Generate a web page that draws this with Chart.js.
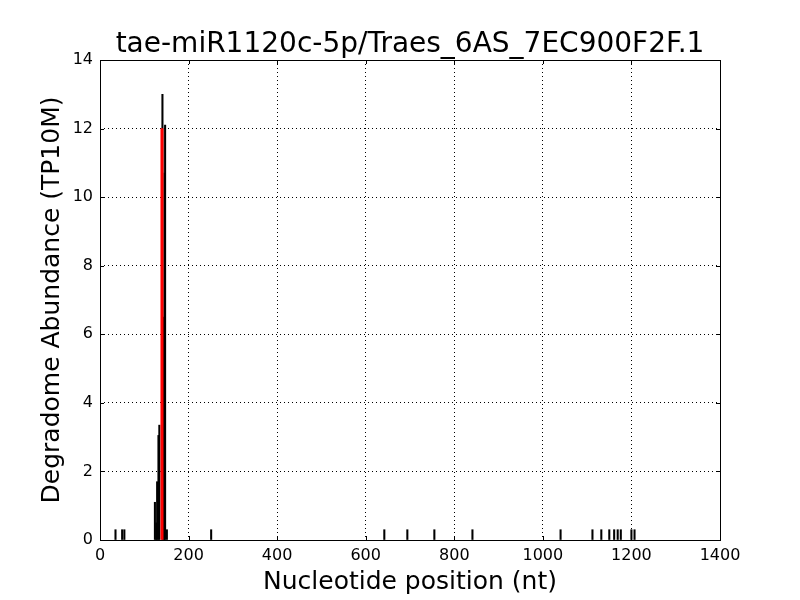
<!DOCTYPE html>
<html>
<head>
<meta charset="utf-8">
<title>tae-miR1120c-5p/Traes_6AS_7EC900F2F.1</title>
<script src="https://cdn.jsdelivr.net/npm/chart.js@4/dist/chart.umd.min.js"></script>
<style>
  html, body { margin: 0; padding: 0; background: #fff; }
  #plot { display: block; }
</style>
</head>
<body>
<canvas id="plot" width="800" height="600"></canvas>
<script>
'use strict';

// degradome reads (nucleotide position, TP10M)
const readPositions = [35, 50, 55, 124, 127, 129, 132, 134, 141, 144, 146, 147, 151,
  251, 642, 694, 755, 841, 1040, 1112, 1132, 1150, 1161, 1169, 1176, 1200, 1207];
const readAbundance = [0.3, 0.3, 0.3, 1.1, 0.5, 1.7, 3.05, 3.35, 13.0, 6.5, 10.7, 12.1, 0.3,
  0.3, 0.3, 0.3, 0.3, 0.3, 0.3, 0.3, 0.3, 0.3, 0.3, 0.3, 0.3, 0.3, 0.3];

// predicted cleavage site
const sitePositions = [140];
const siteAbundance = [12.0];

const xTickValues = [0, 200, 400, 600, 800, 1000, 1200, 1400];
const yTickValues = [0, 2, 4, 6, 8, 10, 12, 14];

const FONT = 'DejaVu Sans';

function toPoints(xs, ys) { return xs.map((x, i) => ({ x: x, y: ys[i] })); }

// solid frame + inward ticks on all four sides, like the old matplotlib look
const framePlugin = {
  id: 'frame',
  afterDraw(chart) {
    const { ctx, chartArea: a, scales } = chart;
    ctx.save();
    ctx.strokeStyle = '#000';
    ctx.lineWidth = 1;
    ctx.beginPath();
    xTickValues.forEach(v => {
      const px = Math.round(scales.x.getPixelForValue(v)) + 0.5;
      ctx.moveTo(px, a.bottom); ctx.lineTo(px, a.bottom - 4);
      ctx.moveTo(px, a.top); ctx.lineTo(px, a.top + 4);
    });
    yTickValues.forEach(v => {
      const py = Math.round(scales.y.getPixelForValue(v)) + 0.5;
      ctx.moveTo(a.left, py); ctx.lineTo(a.left + 4, py);
      ctx.moveTo(a.right, py); ctx.lineTo(a.right - 4, py);
    });
    ctx.stroke();
    ctx.strokeRect(Math.round(a.left) + 0.5, Math.round(a.top) + 0.5,
      Math.round(a.right - a.left), Math.round(a.bottom - a.top));
    ctx.restore();
  }
};

new Chart(document.getElementById('plot'), {
  type: 'bar',
  data: {
    datasets: [
      {
        label: 'cleavage site',
        data: toPoints(sitePositions, siteAbundance),
        backgroundColor: '#ff0000',
        barThickness: 2.4,
        grouped: false
      },
      {
        label: 'degradome',
        data: toPoints(readPositions, readAbundance),
        backgroundColor: '#000000',
        barThickness: 1.4,
        grouped: false
      }
    ]
  },
  options: {
    responsive: false,
    animation: false,
    layout: { padding: { left: 0, right: 80, top: 0, bottom: 0 } },
    plugins: {
      legend: { display: false },
      tooltip: { enabled: false },
      title: {
        display: true,
        fullSize: false,
        text: 'tae-miR1120c-5p/Traes_6AS_7EC900F2F.1',
        color: '#000',
        font: { family: FONT, size: 28, weight: 'normal', lineHeight: 1.1 },
        padding: { top: 29.1, bottom: 0.1 }
      }
    },
    scales: {
      x: {
        type: 'linear',
        min: 0, max: 1400,
        offset: false,
        afterBuildTicks: s => { s.ticks = xTickValues.map(v => ({ value: v })); },
        afterFit: s => { s.height = 60; },
        ticks: { color: '#000', padding: 6, font: { family: FONT, size: 16 }, callback: v => String(v) },
        grid: { color: '#000', lineWidth: 1, drawTicks: false, offset: false },
        border: { display: false, dash: [1, 3] },
        title: {
          display: true,
          text: 'Nucleotide position (nt)',
          color: '#000',
          font: { family: FONT, size: 25, lineHeight: 1.2 },
          padding: { top: 0, bottom: 3 }
        }
      },
      y: {
        type: 'linear',
        min: 0, max: 14,
        afterBuildTicks: s => { s.ticks = yTickValues.map(v => ({ value: v })); },
        afterFit: s => { s.width = 100; },
        ticks: { color: '#000', padding: 7, font: { family: FONT, size: 16 }, callback: v => String(v) },
        grid: { color: '#000', lineWidth: 1, drawTicks: false },
        border: { display: false, dash: [1, 3] },
        title: {
          display: true,
          text: 'Degradome Abundance (TP10M)',
          color: '#000',
          font: { family: FONT, size: 25, lineHeight: 1.2 },
          padding: { top: 37, bottom: 0 }
        }
      }
    }
  },
  plugins: [framePlugin]
});
</script>
</body>
</html>
